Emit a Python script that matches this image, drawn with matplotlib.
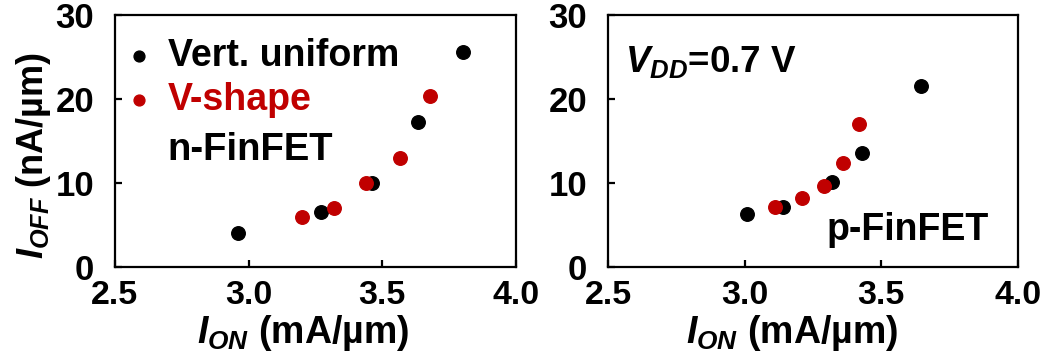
import matplotlib
matplotlib.use("Agg")
import matplotlib.pyplot as plt

plt.rcParams['font.family'] = ['Liberation Sans', 'DejaVu Sans']
plt.rcParams['font.weight'] = 'bold'
plt.rcParams['axes.labelweight'] = 'bold'
plt.rcParams['mathtext.fontset'] = 'custom'
plt.rcParams['mathtext.rm'] = 'Liberation Sans:bold'
plt.rcParams['mathtext.it'] = 'Liberation Sans:italic:bold'
plt.rcParams['mathtext.bf'] = 'Liberation Sans:bold'

# n-FinFET: I_ON (mA/um) vs I_OFF (nA/um)
n_uni_on = [2.96, 3.27, 3.46, 3.635, 3.80]
n_uni_off = [4.0, 6.6, 10.0, 17.3, 25.6]
n_v_on = [3.20, 3.32, 3.44, 3.565, 3.68]
n_v_off = [5.9, 7.0, 10.0, 13.0, 20.3]

# p-FinFET
p_uni_on = [3.01, 3.14, 3.32, 3.43, 3.645]
p_uni_off = [6.3, 7.1, 10.1, 13.6, 21.6]
p_v_on = [3.11, 3.21, 3.29, 3.36, 3.42]
p_v_off = [7.1, 8.2, 9.7, 12.4, 17.0]

xticks = [2.5, 3.0, 3.5, 4.0]
xticklabels = ['2.5', '3.0', '3.5', '4.0']
yticks = [0, 10, 20, 30]

RED = '#c00000'
fig = plt.figure(figsize=(10.49, 3.6), dpi=100)
ax1 = fig.add_axes([115 / 1049, 93 / 360, 401 / 1049, 252 / 360])
ax2 = fig.add_axes([608 / 1049, 93 / 360, 410 / 1049, 252 / 360])

for ax in (ax1, ax2):
    ax.set_xlim(2.5, 4.0)
    ax.set_ylim(0, 30)
    ax.set_xticks(xticks)
    ax.set_xticklabels(xticklabels)
    ax.set_yticks(yticks)
    ax.tick_params(direction='in', length=5, width=1.6)
    ax.tick_params(axis='x', labelsize=24.5, pad=9)
    ax.tick_params(axis='y', labelsize=25, pad=15)
    for s in ax.spines.values():
        s.set_linewidth(1.6)
    ax.set_xlabel(r'$I_{ON}$ (mA/µm)', fontsize=27)
    ax.xaxis.label.set_va('baseline')

ax1.xaxis.set_label_coords(0.47, -0.30)
ax2.xaxis.set_label_coords(0.449, -0.30)

ax1.scatter(n_uni_on, n_uni_off, s=95, color='black', label='Vert. uniform', zorder=3)
ax1.scatter(n_v_on, n_v_off, s=95, color=RED, label='V-shape', zorder=3)
ax2.scatter(p_uni_on, p_uni_off, s=95, color='black', zorder=3)
ax2.scatter(p_v_on, p_v_off, s=95, color=RED, zorder=3)

ax1.set_ylabel(r'$I_{OFF}$ (nA/µm)', fontsize=26)
ax1.yaxis.label.set_va('baseline')
ax1.yaxis.set_label_coords(-0.18, 0.444)

leg = ax1.legend(loc='upper left', frameon=False, fontsize=27, handlelength=0.5,
                 handletextpad=0.5, labelspacing=0.22, markerscale=0.8,
                 borderaxespad=0.0, bbox_to_anchor=(0.0, 0.97))
for txt, col in zip(leg.get_texts(), ['black', RED]):
    txt.set_color(col)

ax1.text(0.13, 0.425, 'n-FinFET', transform=ax1.transAxes, fontsize=27.5,
         va='baseline', ha='left')
ax2.text(0.041, 0.774, r'$V_{DD}$=0.7 V', transform=ax2.transAxes, fontsize=26.5,
         va='baseline', ha='left')
ax2.text(0.533, 0.107, 'p-FinFET', transform=ax2.transAxes, fontsize=27,
         va='baseline', ha='left')

fig.savefig('out.png', dpi=100)
